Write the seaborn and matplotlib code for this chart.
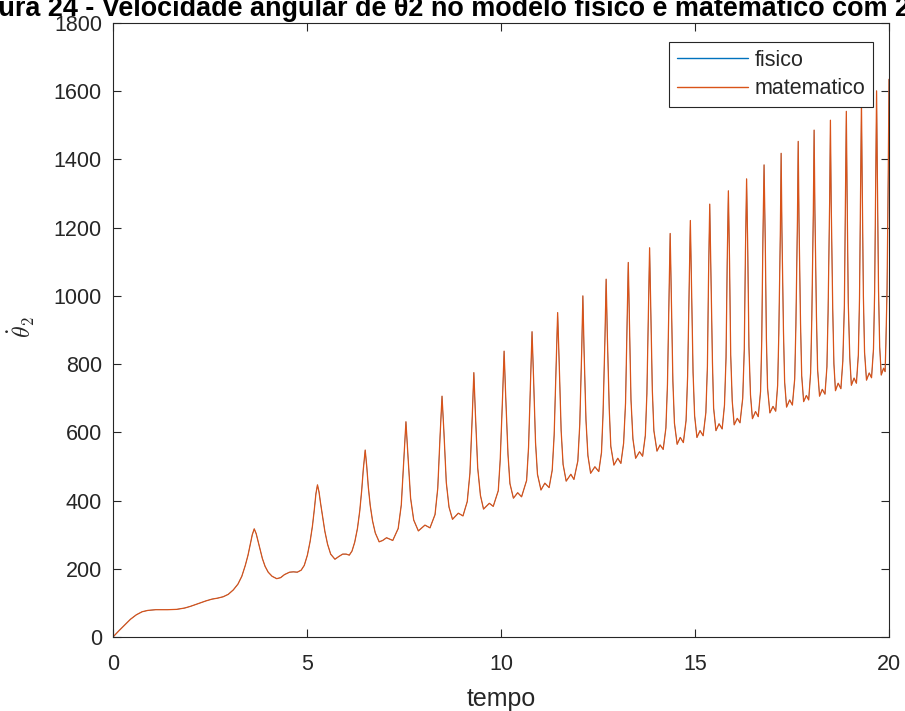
import matplotlib
matplotlib.use("Agg")
import matplotlib.pyplot as plt
import pandas as pd
import seaborn as sns

# Transient start of the response (t < 7.3 s), read point by point
inicio_t = [0.00, 0.15, 0.30, 0.45, 0.60, 0.75, 0.90, 1.10, 1.40, 1.64, 1.85, 2.00,
            2.20, 2.40, 2.55, 2.70, 2.84, 2.97, 3.10, 3.22, 3.32, 3.41, 3.48, 3.54,
            3.59, 3.64, 3.69, 3.74, 3.79, 3.85, 3.92, 4.00, 4.10, 4.22, 4.32, 4.42,
            4.55, 4.65, 4.75, 4.85, 4.93, 5.01, 5.08, 5.14, 5.19, 5.23, 5.27, 5.31,
            5.35, 5.40, 5.46, 5.53, 5.61, 5.72, 5.82, 5.92, 6.01, 6.09, 6.16, 6.23,
            6.30, 6.36, 6.41, 6.45, 6.50, 6.54, 6.58, 6.63, 6.69, 6.76, 6.86, 6.95,
            7.05, 7.13, 7.21]
inicio_v = [0, 18, 35, 52, 65, 74, 78, 80, 80, 81, 85, 90,
            98, 106, 111, 114, 118, 125, 138, 155, 178, 210, 240, 272,
            300, 317, 303, 280, 256, 230, 207, 190, 178, 171, 174, 183,
            190, 191, 190, 196, 210, 240, 280, 325, 375, 420, 446, 425,
            392, 355, 310, 272, 243, 228, 236, 243, 243, 240, 252, 278,
            318, 370, 430, 490, 548, 500, 440, 385, 340, 305, 279, 283,
            291, 287, 283]

# Periodic regime: one entry per velocity spike
pico_t = [7.55, 8.48, 9.30, 10.08, 10.80, 11.46, 12.11, 12.71, 13.28, 13.83, 14.36, 14.88,
          15.38, 15.86, 16.33, 16.78, 17.22, 17.66, 18.07, 18.49, 18.90, 19.29, 19.68]
pico_v = [631, 706, 775, 838, 895, 951, 1000, 1049, 1098, 1141, 1183, 1221,
          1269, 1308, 1343, 1384, 1418, 1453, 1486, 1515, 1541, 1570, 1601]

# rising flank: foot, middle and upper point of each spike
pe_esq_t = [7.35, 8.30, 9.13, 9.93, 10.66, 11.32, 11.98, 12.59, 13.16, 13.72, 14.25, 14.77,
            15.28, 15.76, 16.23, 16.69, 17.13, 17.57, 17.98, 18.40, 18.81, 19.21, 19.60]
pe_esq_v = [318, 359, 397, 429, 459, 489, 516, 541, 568, 591, 613, 635,
            658, 680, 700, 720, 738, 757, 774, 792, 809, 827, 844]
subida_t = [7.43, 8.37, 9.20, 9.98, 10.71, 11.37, 12.03, 12.63, 13.21, 13.76, 14.29, 14.81,
            15.32, 15.80, 16.27, 16.72, 17.16, 17.60, 18.01, 18.43, 18.85, 19.24, 19.63]
subida_v = [387, 436, 481, 520, 556, 592, 623, 654, 686, 713, 740, 765,
            794, 819, 843, 867, 889, 912, 932, 953, 972, 992, 1012]
topo_esq_t = [7.50, 8.43, 9.26, 10.04, 10.76, 11.42, 12.08, 12.68, 13.25, 13.80, 14.33, 14.85,
              15.35, 15.83, 16.30, 16.75, 17.20, 17.64, 18.05, 18.47, 18.88, 19.27, 19.66]
topo_esq_v = [527, 590, 649, 702, 750, 797, 839, 880, 921, 958, 993, 1026,
              1065, 1099, 1129, 1163, 1191, 1221, 1249, 1274, 1297, 1322, 1349]

# falling flank: upper, middle and foot point of each spike
topo_dir_t = [7.60, 8.53, 9.34, 10.12, 10.84, 11.50, 12.14, 12.74, 13.31, 13.86, 14.39, 14.91,
              15.41, 15.89, 16.36, 16.81, 17.24, 17.68, 18.09, 18.51, 18.92, 19.31, 19.70]
topo_dir_v = [535, 598, 655, 709, 756, 803, 844, 886, 926, 962, 998, 1030,
              1070, 1102, 1132, 1166, 1195, 1224, 1252, 1277, 1300, 1325, 1351]
descida_t = [7.67, 8.59, 9.40, 10.18, 10.89, 11.55, 12.19, 12.79, 13.35, 13.90, 14.43, 14.95,
             15.45, 15.92, 16.39, 16.84, 17.28, 17.72, 18.13, 18.55, 18.95, 19.34, 19.73]
descida_v = [407, 453, 495, 536, 570, 605, 636, 668, 696, 724, 750, 776,
             804, 828, 851, 875, 897, 919, 940, 960, 979, 998, 1018]
pe_dir_t = [7.75, 8.66, 9.47, 10.23, 10.94, 11.60, 12.24, 12.83, 13.40, 13.94, 14.47, 14.99,
            15.48, 15.96, 16.43, 16.87, 17.31, 17.75, 18.16, 18.58, 18.99, 19.37, 19.76]
pe_dir_v = [343, 381, 415, 450, 477, 506, 532, 559, 581, 605, 627, 649,
            671, 691, 710, 730, 748, 766, 784, 801, 818, 835, 851]

# valley between spikes: minimum, small bump, and the dip before the next rise
vale_t = [7.87, 8.75, 9.55, 10.32, 11.03, 11.68, 12.31, 12.91, 13.47, 14.02, 14.54, 15.05,
          15.54, 16.01, 16.48, 16.93, 17.36, 17.80, 18.21, 18.62, 19.03, 19.42, 19.80]
vale_v = [311, 345, 375, 407, 431, 457, 480, 504, 524, 545, 565, 585,
          605, 622, 640, 657, 674, 690, 706, 722, 738, 753, 768]
lomba_t = [8.04, 8.90, 9.70, 10.43, 11.13, 11.80, 12.42, 13.01, 13.57, 14.10, 14.62, 15.13,
           15.62, 16.09, 16.56, 17.01, 17.44, 17.87, 18.28, 18.69, 19.10, 19.49, 19.86]
lomba_v = [328, 363, 392, 423, 451, 477, 499, 524, 543, 563, 585, 605,
           625, 641, 661, 676, 695, 708, 726, 744, 759, 774, 788]
pre_t = [8.17, 9.02, 9.80, 10.53, 11.24, 11.88, 12.52, 13.09, 13.65, 14.18, 14.70, 15.21,
         15.70, 16.16, 16.63, 17.08, 17.51, 17.93, 18.35, 18.76, 19.16, 19.55, 19.90]
pre_v = [320, 355, 383, 411, 438, 462, 485, 509, 530, 550, 570, 590,
         610, 628, 646, 662, 680, 695, 712, 728, 744, 760, 778]

# last spike, cut by the end of the simulation
fim_t = [19.92, 19.95, 19.98, 20.0]
fim_v = [860, 1020, 1350, 1635]

x_ticks = [0, 5, 10, 15, 20]
y_ticks = [0, 200, 400, 600, 800, 1000, 1200, 1400, 1600, 1800]
series = ["fisico", "matematico"]
colors = ["#0072BD", "#D95319"]
widths = [0.4, 0.9]
title = "Figura 24 - Velocidade angular de θ2 no modelo físico e matemático com 2"

# build the time series
tempo = list(inicio_t)
vel = list(inicio_v)
for i in range(len(pico_t)):
    tempo += [pe_esq_t[i], subida_t[i], topo_esq_t[i], pico_t[i], topo_dir_t[i],
              descida_t[i], pe_dir_t[i], vale_t[i], lomba_t[i], pre_t[i]]
    vel += [pe_esq_v[i], subida_v[i], topo_esq_v[i], pico_v[i], topo_dir_v[i],
            descida_v[i], pe_dir_v[i], vale_v[i], lomba_v[i], pre_v[i]]
tempo += fim_t
vel += fim_v

frames = []
for name in series:
    frames.append(pd.DataFrame({"tempo": tempo, "theta2_dot": vel, "modelo": name}))
df = pd.concat(frames, ignore_index=True)

sns.set_style("ticks")
plt.rcParams["font.family"] = ["Liberation Sans", "DejaVu Sans"]
plt.rcParams["mathtext.fontset"] = "cm"

ink = "#262626"
fig = plt.figure(figsize=(9.05, 7.11), dpi=100)
ax = fig.add_axes([113 / 905, 1 - 637 / 711, 776 / 905, 614 / 711])

for name, col, lw in zip(series, colors, widths):
    sns.lineplot(data=df[df["modelo"] == name], x="tempo", y="theta2_dot",
                 color=col, linewidth=lw, estimator=None, sort=False,
                 label=name, ax=ax)

ax.set_xlim(0, 20)
ax.set_ylim(0, 1800)
ax.set_xticks(x_ticks)
ax.set_yticks(y_ticks)
ax.tick_params(direction="in", length=6, width=0.8, colors=ink, labelsize=15.5,
               top=True, right=True)
ax.tick_params(axis="x", pad=12)
ax.tick_params(axis="y", pad=8)
for s in ax.spines.values():
    s.set_color(ink)
    s.set_linewidth(0.8)
    s.set_zorder(5)

ax.set_xlabel("tempo", fontsize=18, color=ink)
ax.xaxis.set_label_coords(0.5, -0.082)
ax.set_ylabel(r"$\dot{\theta}_2$", fontsize=17, color=ink)
ax.yaxis.set_label_coords(-0.098, 0.505)

leg = ax.legend(loc="upper right", bbox_to_anchor=(0.979, 0.969), borderaxespad=0,
                fontsize=15.5, frameon=True, fancybox=False, framealpha=1,
                edgecolor=ink, handlelength=3.3, handletextpad=0.3,
                borderpad=0.35, labelspacing=0.35)
leg.get_frame().set_linewidth(0.8)
for h in leg.get_lines():
    h.set_linewidth(1.0)
for txt in leg.get_texts():
    txt.set_color(ink)

fig.text(1.006, 1 - 16 / 711, title, ha="right", va="baseline", fontsize=19.45,
         fontweight="bold", color="black")

fig.savefig("out.png", dpi=100)
